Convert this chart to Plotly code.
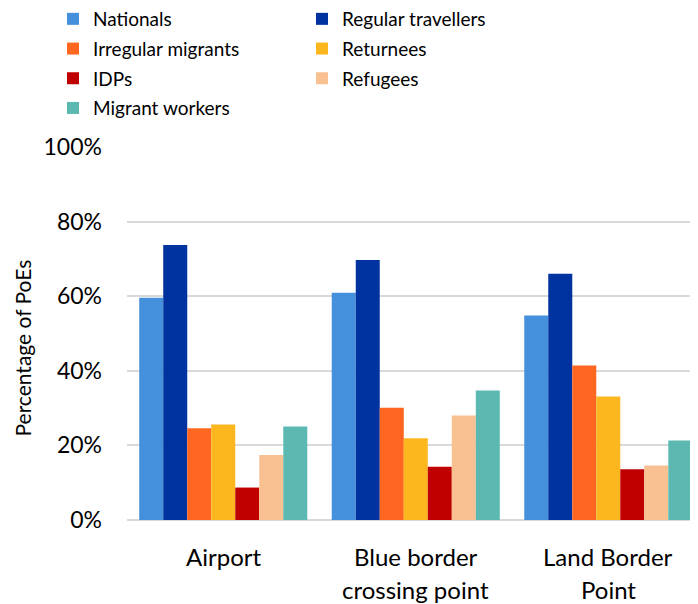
import plotly.graph_objects as go

categories = ["Airport", "Blue border<br>crossing point", "Land Border<br>Point"]
series_names = ["Nationals", "Regular travellers", "Irregular migrants", "Returnees",
                "IDPs", "Refugees", "Migrant workers"]
nationals = [59.6, 60.9, 54.8]
regular_travellers = [73.7, 69.7, 66.0]
irregular_migrants = [24.6, 30.1, 41.4]
returnees = [25.6, 21.9, 33.1]
idps = [8.7, 14.3, 13.6]
refugees = [17.4, 28.0, 14.6]
migrant_workers = [25.1, 34.7, 21.3]
colors = ["#4590DD", "#0033A0", "#FF6720", "#FDB71E", "#C00000", "#F9C091", "#5BB9B2"]
y_ticks = [0, 20, 40, 60, 80, 100]
y_tick_text = ["0%", "20%", "40%", "60%", "80%", "100%"]
y_title = "Percentage of PoEs"

values = [nationals, regular_travellers, irregular_migrants, returnees, idps, refugees, migrant_workers]

FONT = "Lato, Open Sans, sans-serif"
BLACK = "#000000"

# page body adds an 8px offset; layout below is expressed in figure pixels
PL, PT, PB, PR = 119, 139, 512, 690
PH = PB - PT

fig = go.Figure()
for i, (name, vals, col) in enumerate(zip(series_names, values, colors)):
    fig.add_trace(go.Bar(x=categories, y=vals, name=name,
                         legend="legend" if i % 2 == 0 else "legend2",
                         legendgroup="g%d" % i,
                         marker=dict(color=col, line=dict(width=0))))

leg_top = 1 + (PT + 8) / PH
leg_common = dict(orientation="v", xref="container", yref="paper",
                  xanchor="left", yanchor="top", tracegroupgap=2,
                  font=dict(family=FONT, size=19, color=BLACK),
                  bgcolor="rgba(0,0,0,0)", borderwidth=0, traceorder="grouped")

fig.update_layout(
    width=698, height=604,
    margin=dict(l=PL, r=698 - PR, t=PT, b=604 - PB, autoexpand=False),
    paper_bgcolor="white", plot_bgcolor="white",
    barmode="group", bargap=0.127, bargroupgap=0,
    font=dict(family=FONT, size=20, color=BLACK),
    legend=dict(x=45 / 698, y=leg_top, **leg_common),
    legend2=dict(x=294 / 698, y=leg_top, **leg_common),
    showlegend=True,
)

fig.update_xaxes(range=[-0.5, 2.466], showgrid=False, showline=False, ticks="",
                 showticklabels=False)
# category labels drawn as text at category positions (two lines where needed)
for cat in categories:
    lines = cat.split("<br>")
    for j, ln in enumerate(lines):
        fig.add_annotation(x=cat, xref="x", yref="paper", y=-(36 + 33 * j) / PH,
                           text=ln, showarrow=False, xanchor="center", yanchor="middle",
                           font=dict(family=FONT, size=24, color=BLACK))

fig.update_yaxes(range=[0, 100], tickvals=y_ticks, ticktext=y_tick_text,
                 showgrid=True, gridcolor="#D9D9D9", gridwidth=1.5,
                 zeroline=True, zerolinecolor="#D9D9D9", zerolinewidth=1.5,
                 showline=False, ticks="", ticklabelstandoff=24,
                 tickfont=dict(family=FONT, size=23, color=BLACK))
fig.add_annotation(text=y_title, textangle=-90, xref="paper", yref="paper",
                   x=(14 - PL) / (PR - PL), y=(PB - 340.5) / PH, showarrow=False,
                   xanchor="center", yanchor="middle",
                   font=dict(family=FONT, size=21, color=BLACK))

fig.write_html("out.html")
